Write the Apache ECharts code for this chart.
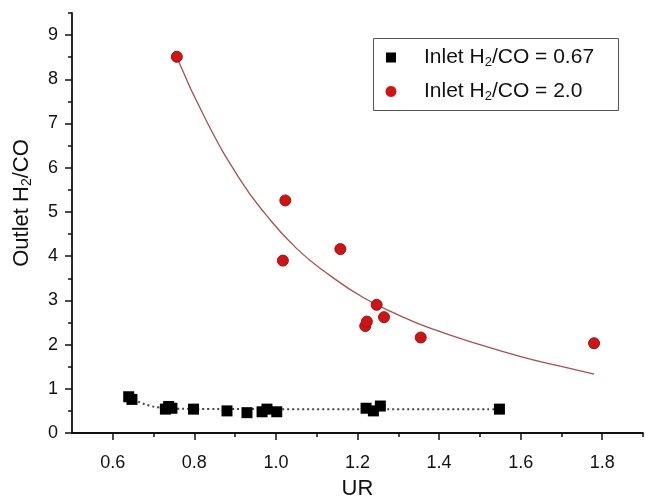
<!DOCTYPE html>
<html>
<head>
<meta charset="utf-8">
<script src="https://cdn.jsdelivr.net/npm/echarts@6/dist/echarts.min.js"></script>
<style>html,body{margin:0;padding:0;background:#fff}#c{width:646px;height:500px}</style>
</head>
<body>
<div id="c"></div>
<script>
// Inlet H2/CO = 0.67 (black squares)
const blackX = [0.639, 0.647, 0.729, 0.737, 0.745, 0.798, 0.880, 0.929, 0.966, 0.978, 1.002, 1.221, 1.239, 1.256, 1.548];
const blackY = [0.82, 0.76, 0.54, 0.60, 0.56, 0.54, 0.50, 0.46, 0.48, 0.54, 0.48, 0.56, 0.50, 0.61, 0.54];
// dotted fit line
const blackFitX = [0.64, 0.655, 0.67, 0.69, 0.71, 0.74, 0.80, 1.00, 1.55];
const blackFitY = [0.81, 0.74, 0.68, 0.62, 0.58, 0.555, 0.545, 0.54, 0.54];
// Inlet H2/CO = 2.0 (red circles)
const redX = [0.757, 1.017, 1.023, 1.158, 1.219, 1.223, 1.247, 1.265, 1.355, 1.780];
const redY = [8.51, 3.90, 5.26, 4.16, 2.42, 2.52, 2.90, 2.62, 2.16, 2.03];
// red fit curve
const redFitX = [0.757, 0.83, 0.913, 0.97, 1.051, 1.133, 1.215, 1.305, 1.378, 1.50, 1.60, 1.697, 1.78];
const redFitY = [8.50, 7.05, 5.72, 5.00, 4.17, 3.56, 3.06, 2.65, 2.37, 2.00, 1.73, 1.51, 1.33];
// ticks
const xTicks = [0.6, 0.8, 1.0, 1.2, 1.4, 1.6, 1.8];
const xMinorTicks = [0.7, 0.9, 1.1, 1.3, 1.5, 1.7, 1.9];
const yTicks = [0, 1, 2, 3, 4, 5, 6, 7, 8, 9];
const yMinorTicks = [0.5, 1.5, 2.5, 3.5, 4.5, 5.5, 6.5, 7.5, 8.5, 9.5];
const seriesNames = ['Inlet H2/CO = 0.67', 'Inlet H2/CO = 2.0'];

const zip = (a, b) => a.map((v, i) => [v, b[i]]);
const FONT = 'Liberation Sans, Arial, sans-serif';
const chart = echarts.init(document.getElementById('c'));
const baseAxis = {
  axisLine: {show: true, lineStyle: {color: '#111', width: 1.8}},
  splitLine: {show: false},
};
const richName = {
  t: {fontFamily: FONT, fontSize: 22, color: '#111'},
  s: {fontFamily: FONT, fontSize: 14, color: '#111', padding: [10, 0, 0, 0]}
};
chart.setOption({
  backgroundColor: '#fff',
  animation: false,
  grid: {left: 72, right: 3, top: 13, bottom: 67, containLabel: false, outerBoundsMode: 'none'},
  graphic: [{type: 'rect', shape: {x: 373.5, y: 38.5, width: 245, height: 72}, style: {fill: 'none', stroke: '#555', lineWidth: 1}, z: 1}],
  legend: {
    orient: 'vertical', left: 384, top: 46, itemGap: 11,
    itemWidth: 12, itemHeight: 12, padding: 0,
    data: [
      {name: seriesNames[0], icon: 'rect', itemStyle: {color: '#000', borderColor: '#fff', borderWidth: 2}},
      {name: seriesNames[1], icon: 'circle', itemStyle: {color: '#cc1616', borderColor: '#fff', borderWidth: 1}}
    ],
    formatter: n => '{p|Inlet H}{s|2}{t|' + n.split('2').slice(1).join('2') + '}',
    textStyle: {
      rich: {
        p: {fontFamily: FONT, fontSize: 21, color: '#111', padding: [0, 0, 0, 22], lineHeight: 24},
        t: {fontFamily: FONT, fontSize: 21, color: '#111', lineHeight: 24},
        s: {fontFamily: FONT, fontSize: 13, color: '#111', padding: [10, 0, 0, 0], lineHeight: 24}
      }
    }
  },
  xAxis: [{
    ...baseAxis, type: 'value', min: 0.5, max: 1.9,
    name: '{t|UR}', nameLocation: 'middle', nameGap: 45,
    nameTextStyle: {rich: richName},
    axisTick: {show: true, length: 7, inside: false, customValues: xTicks, lineStyle: {color: '#111', width: 1.5}},
    axisLabel: {customValues: xTicks, margin: 21, fontFamily: FONT, fontSize: 18, color: '#111', formatter: v => v.toFixed(1)}
  }, {
    type: 'value', min: 0.5, max: 1.9, position: 'bottom',
    axisLine: {show: false}, splitLine: {show: false},
    axisTick: {show: true, length: 4, customValues: xMinorTicks, lineStyle: {color: '#111', width: 1.5}},
    axisLabel: {show: false}
  }],
  yAxis: [{
    ...baseAxis, type: 'value', min: 0, max: 9.5,
    name: '{t|Outlet H}{s|2}{t|/CO}', nameLocation: 'middle', nameGap: 38,
    nameTextStyle: {rich: richName, padding: [0, 0, 0, 40]},
    axisTick: {show: true, length: 7, customValues: yTicks, lineStyle: {color: '#111', width: 1.5}},
    axisLabel: {customValues: yTicks, margin: 14, fontFamily: FONT, fontSize: 18, color: '#111', formatter: v => String(v)}
  }, {
    type: 'value', min: 0, max: 9.5, position: 'left',
    axisLine: {show: false}, splitLine: {show: false},
    axisTick: {show: true, length: 4, customValues: yMinorTicks, lineStyle: {color: '#111', width: 1.5}},
    axisLabel: {show: false}
  }],
  series: [
    {type: 'line', name: 'blackFit', data: zip(blackFitX, blackFitY), smooth: true, symbol: 'none',
     lineStyle: {color: '#444', width: 2, type: [2, 3]}, z: 2, silent: true},
    {type: 'line', name: 'redFit', data: zip(redFitX, redFitY), smooth: true, symbol: 'none',
     lineStyle: {color: '#a85050', width: 1.3}, z: 2, silent: true},
    {type: 'scatter', name: seriesNames[0], data: zip(blackX, blackY), symbol: 'rect', symbolSize: 11,
     itemStyle: {color: '#000', opacity: 1}, z: 3},
    {type: 'scatter', name: seriesNames[1], data: zip(redX, redY), symbol: 'circle', symbolSize: 11,
     itemStyle: {color: '#cc1616', borderColor: '#a01010', borderWidth: 1, opacity: 1}, z: 3}
  ]
});
</script>
</body>
</html>
